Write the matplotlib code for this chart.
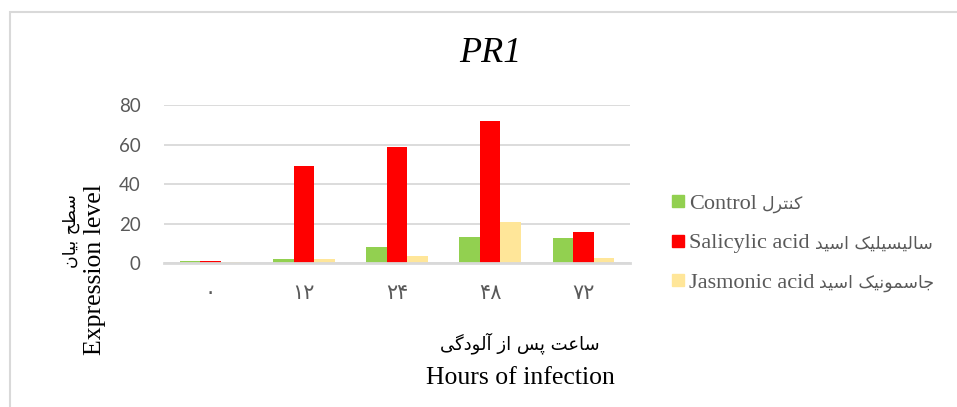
import numpy as np
import matplotlib.pyplot as plt
from matplotlib.patches import Rectangle
from matplotlib.lines import Line2D

# data
hours = ['۰', '۱۲', '۲۴', '۴۸', '۷۲']
control = [1.0, 2.0, 8.0, 13.1, 12.9]
salicylic = [1.0, 49.2, 58.7, 72.2, 15.6]
jasmonic = [0.5, 1.9, 3.4, 21.0, 2.4]
series_en = ['Control', 'Salicylic acid', 'Jasmonic acid']
series_fa = ['کنترل', 'سالیسیلیک اسید', 'جاسمونیک اسید']

# Persian letters -> presentation forms (isolated, final, initial, medial)
FORMS = {
    'ا': ('\uFE8D', '\uFE8E', None, None),
    'آ': ('\uFE81', '\uFE82', None, None),
    'ب': ('\uFE8F', '\uFE90', '\uFE91', '\uFE92'),
    'پ': ('\uFB56', '\uFB57', '\uFB58', '\uFB59'),
    'ت': ('\uFE95', '\uFE96', '\uFE97', '\uFE98'),
    'ج': ('\uFE9D', '\uFE9E', '\uFE9F', '\uFEA0'),
    'ح': ('\uFEA1', '\uFEA2', '\uFEA3', '\uFEA4'),
    'د': ('\uFEA9', '\uFEAA', None, None),
    'ر': ('\uFEAD', '\uFEAE', None, None),
    'ز': ('\uFEAF', '\uFEB0', None, None),
    'س': ('\uFEB1', '\uFEB2', '\uFEB3', '\uFEB4'),
    'ط': ('\uFEC1', '\uFEC2', '\uFEC3', '\uFEC4'),
    'ع': ('\uFEC9', '\uFECA', '\uFECB', '\uFECC'),
    'ک': ('\uFB8E', '\uFB8F', '\uFB90', '\uFB91'),
    'گ': ('\uFB92', '\uFB93', '\uFB94', '\uFB95'),
    'ل': ('\uFEDD', '\uFEDE', '\uFEDF', '\uFEE0'),
    'م': ('\uFEE1', '\uFEE2', '\uFEE3', '\uFEE4'),
    'ن': ('\uFEE5', '\uFEE6', '\uFEE7', '\uFEE8'),
    'و': ('\uFEED', '\uFEEE', None, None),
    'ی': ('\uFBFC', '\uFBFD', '\uFBFE', '\uFBFF'),
}


def fa(s):
    # shape the letters, then flip to visual order
    out = []
    for i, ch in enumerate(s):
        if ch not in FORMS:
            out.append(ch)
            continue
        prev = s[i - 1] if i > 0 else None
        nxt = s[i + 1] if i < len(s) - 1 else None
        join_prev = prev in FORMS and FORMS[prev][2] is not None
        join_next = FORMS[ch][2] is not None and nxt in FORMS
        if join_prev and join_next:
            out.append(FORMS[ch][3])
        elif join_prev:
            out.append(FORMS[ch][1])
        elif join_next:
            out.append(FORMS[ch][2])
        else:
            out.append(FORMS[ch][0])
    return ''.join(out[::-1])


colors = ['#92d050', '#ff0000', '#ffe699']
serif = ['Liberation Serif', 'DejaVu Sans']
gray = '#595959'

fig = plt.figure(figsize=(9.57, 4.07), dpi=100)
ax = fig.add_axes([164 / 957, 144 / 407, 466 / 957, 157.7 / 407])

x = np.arange(len(hours))
w = 0.22
for k, (vals, c) in enumerate(zip([control, salicylic, jasmonic], colors)):
    ax.bar(x + (k - 1) * w, vals, w, color=c, zorder=3)

ax.set_xlim(-0.5, 4.5)
ax.set_ylim(0, 80)
ax.set_yticks([0, 20, 40, 60, 80])
ax.set_yticklabels(['0', '20', '40', '60', '80'], fontfamily='Lato', fontsize=13.5, color=gray)
ax.set_xticks(x)
ax.set_xticklabels(hours, fontfamily=serif, fontsize=15, color=gray)
ax.tick_params(length=0)
ax.tick_params(axis='y', pad=17)
ax.tick_params(axis='x', pad=16)
ax.grid(axis='y', color='#d9d9d9', lw=1.3, zorder=0)
for s in ['top', 'right', 'left']:
    ax.spines[s].set_visible(False)
ax.spines['bottom'].set_color('#d9d9d9')
ax.spines['bottom'].set_linewidth(2)
ax.spines['bottom'].set_zorder(4)

fig.text(490 / 957, 1 - 53 / 407, 'PR1', ha='center', va='center',
         fontfamily='Liberation Serif', style='italic', fontsize=26)

fig.text(71 / 957, 1 - 231 / 407, fa('سطح بیان'), rotation=90, ha='center', va='center',
         fontfamily='DejaVu Sans', fontsize=12.5)
fig.text(95 / 957, 1 - 270 / 407, 'Expression level', rotation=90, ha='center', va='center',
         fontfamily='Liberation Serif', fontsize=18.5)
fig.text(520 / 957, 1 - 343 / 407, fa('ساعت پس از آلودگی'), ha='center', va='center',
         fontfamily='DejaVu Sans', fontsize=13)
fig.text(520 / 957, 1 - 378 / 407, 'Hours of infection', ha='center', va='center',
         fontfamily='Liberation Serif', fontsize=18.5)

handles = [Line2D([], [], marker='s', ls='', color=c, markersize=8) for c in colors]
leg = fig.legend(handles, series_en, loc='center left', bbox_to_anchor=(668 / 957, 1 - 243 / 407),
                 frameon=False, handletextpad=0.05, labelspacing=0.86, handlelength=0.9,
                 borderpad=0, borderaxespad=0,
                 prop={'family': 'Liberation Serif', 'size': 16})
for t in leg.get_texts():
    t.set_color(gray)

# Persian part of each legend entry, placed after the Latin text
fig.canvas.draw()
inv = fig.transFigure.inverted()
for t, name in zip(leg.get_texts(), series_fa):
    bb = t.get_window_extent()
    x0, y0 = inv.transform((bb.x1 + 5, (bb.y0 + bb.y1) / 2))
    fig.text(x0, y0, fa(name), ha='left', va='center', fontfamily='DejaVu Sans',
             fontsize=12.5, color=gray)

fig.patches.append(Rectangle((10 / 957, -0.1), 1.0, 1 - 12 / 407 + 0.1, transform=fig.transFigure,
                             fill=False, edgecolor='#d9d9d9', lw=1.5))

fig.savefig('out.png', dpi=100)
